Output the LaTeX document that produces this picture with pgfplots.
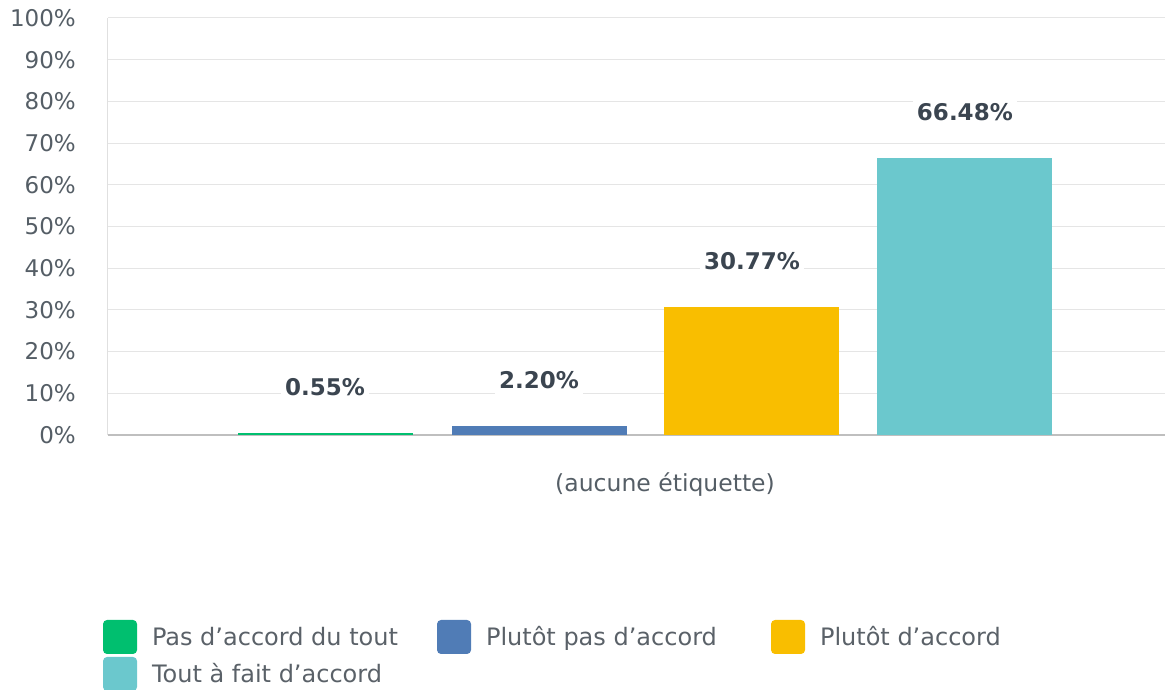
\documentclass[border=0pt]{standalone}
\usepackage{fontspec}
\setmainfont{DejaVu Sans}
\usepackage{pgfplots}
\pgfplotsset{compat=1.18}
\definecolor{cGreen}{HTML}{00BF6F}
\definecolor{cBlue}{HTML}{507CB6}
\definecolor{cYellow}{HTML}{F9BE00}
\definecolor{cTeal}{HTML}{6BC8CD}
\definecolor{tickgray}{HTML}{555E66}
\definecolor{valgray}{HTML}{3B4550}
\definecolor{leggray}{HTML}{5A6168}
\begin{document}
\begin{tikzpicture}
\pgfplotsset{
  sq/.style={legend image code/.code={\fill[##1,draw=none,rounded corners=4pt] (0pt,-17pt) rectangle (34pt,17pt);}}
}
\begin{axis}[
  at={(108pt,254pt)}, anchor=south west,
  scale only axis, width=1057pt, height=417pt,
  xmin=-0.014, xmax=4.925, ymin=0, ymax=100,
  axis lines=left, axis line style={-},
  x axis line style={draw=black!25, line width=1.2pt},
  y axis line style={draw=black!12, line width=1pt},
  ymajorgrids, grid style={draw=black!10, line width=1pt},
  major tick length=0pt,
  ytick={0,10,...,100},
  yticklabels={0\%,10\%,20\%,30\%,40\%,50\%,60\%,70\%,80\%,90\%,100\%},
  yticklabel style={font=\fontsize{23}{26}\selectfont, text=tickgray, inner sep=0pt, xshift=-32pt},
  xtick={2.589}, xticklabels={(aucune étiquette)},
  xticklabel style={font=\fontsize{23.5}{26}\selectfont, text=tickgray, inner sep=0pt, yshift=-37pt},
  /pgf/number format/assume math mode=true,
  nodes near coords={\pgfmathprintnumber[fixed,fixed zerofill,precision=2]{\pgfplotspointmeta}\%},
  every node near coord/.append style={font=\bfseries\fontsize{23}{26}\selectfont, text=valgray, fill=white, inner xsep=4pt, inner ysep=8pt, anchor=center, yshift=46pt},
  legend style={at={(-0.0047,-0.4436)}, anchor=north west, draw=none, fill=none,
    inner sep=0pt, outer sep=0pt, row sep=3pt,
    font=\fontsize{24}{26}\selectfont, text=leggray,
    /tikz/every odd column/.append style={column sep=15pt},
    nodes={inner sep=0pt, anchor=west}},
  legend columns=3, legend cell align=left,
  clip=false,
]
\addplot[ybar, bar width=175pt, bar shift=0pt, fill=cGreen, draw=none, sq] coordinates {(1,0.55)};
\addlegendentry{\makebox[285pt][l]{Pas d’accord du tout}}
\addplot[ybar, bar width=175pt, bar shift=0pt, fill=cBlue, draw=none, sq] coordinates {(2,2.20)};
\addlegendentry{\makebox[285pt][l]{Plutôt pas d’accord}}
\addplot[ybar, bar width=175pt, bar shift=0pt, fill=cYellow, draw=none, sq] coordinates {(2.995,30.77)};
\addlegendentry{\makebox[285pt][l]{Plutôt d’accord}}
\addplot[ybar, bar width=175pt, bar shift=0pt, fill=cTeal, draw=none, sq] coordinates {(3.99,66.48)};
\addlegendentry{\makebox[285pt][l]{Tout à fait d’accord}}
\end{axis}
\pgfresetboundingbox
\useasboundingbox (0,0) rectangle (1167pt,689pt);
\end{tikzpicture}
\end{document}
